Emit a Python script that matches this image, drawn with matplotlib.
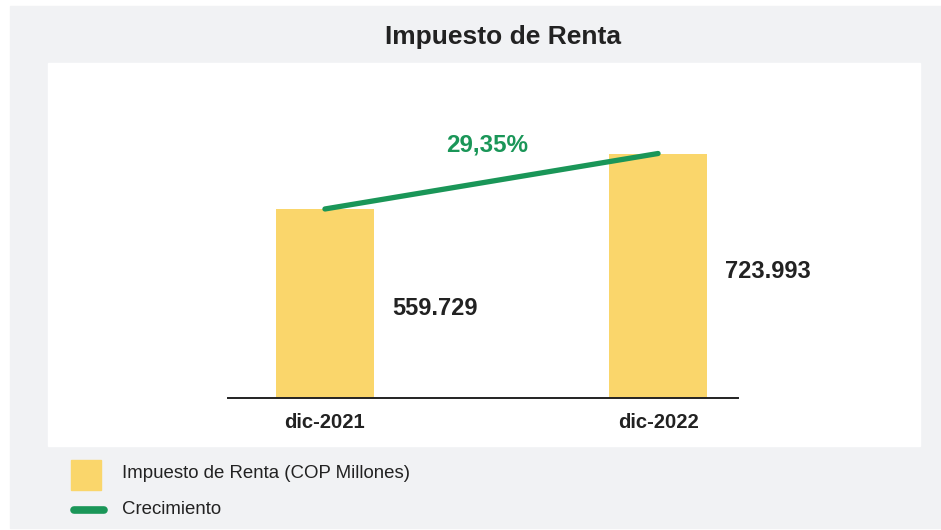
import matplotlib.pyplot as plt
from matplotlib.patches import Rectangle
from matplotlib.lines import Line2D


W, H = 941, 530

categories = ["dic-2021", "dic-2022"]
values = [559729, 723993]
value_labels = ["559.729", "723.993"]
growth_label = "29,35%"

BAR_COLOR = "#fad66b"
LINE_COLOR = "#1a9658"
BG_COLOR = "#f1f2f4"
TEXT_COLOR = "#222222"

plt.rcParams["font.family"] = ["Liberation Sans", "DejaVu Sans"]


def px(x, y):
    # pixel coords (top-left origin) -> figure fraction
    return x / W, 1 - y / H


fig = plt.figure(figsize=(W / 100, H / 100), dpi=100)
fig.patch.set_facecolor("white")

# gray card and white plot panel
x0, y0 = px(10, 528)
fig.patches.append(Rectangle((x0, y0), (W - 10) / W, 522 / H,
                             transform=fig.transFigure, color=BG_COLOR, zorder=-2))
x0, y0 = px(48, 446)
fig.patches.append(Rectangle((x0, y0), (920 - 48) / W, (446 - 63) / H,
                             transform=fig.transFigure, color="white", zorder=-1))

fig.text(*px(503, 37), "Impuesto de Renta", ha="center", va="center",
         fontsize=19, fontweight="bold", color=TEXT_COLOR)

# axes spanning the baseline line
left, right, base, top = 228, 738, 398, 63
ax = fig.add_axes([left / W, 1 - base / H, (right - left) / W, (base - top) / H])
ax.set_facecolor("none")
ax.set_zorder(5)

xs = list(range(len(categories)))
ax.bar(xs, values, width=0.294, color=BAR_COLOR, zorder=2)
ax.plot(xs, values, color=LINE_COLOR, linewidth=3.8, solid_capstyle="round", zorder=3)

ax.set_xlim(-0.291, 1.240)
ax.set_ylim(0, 992000)

# small vertical nudges (points) so the labels sit where the original has them
label_nudge = [-3.6, 3.2]
for x, v, lab, dy in zip(xs, values, value_labels, label_nudge):
    ax.annotate(lab, (x + 0.33, v / 2), xytext=(0, dy), textcoords="offset points",
                ha="center", va="center", fontsize=17, fontweight="bold",
                color=TEXT_COLOR, annotation_clip=False)

mid_x = sum(xs) / len(xs)
ax.text(mid_x - 0.0135, max(values) * 1.035, growth_label, ha="center", va="center",
        fontsize=17.4, fontweight="bold", color=LINE_COLOR)

ax.set_xticks(xs, labels=categories)
ax.tick_params(axis="x", length=0, pad=11, labelsize=14.6, labelcolor=TEXT_COLOR)
for lbl in ax.get_xticklabels():
    lbl.set_fontweight("bold")
ax.set_yticks([])
for side in ["left", "right", "top"]:
    ax.spines[side].set_visible(False)
ax.spines["bottom"].set_color("#222222")
ax.spines["bottom"].set_linewidth(1.4)

# legend drawn by hand
x0, y0 = px(71, 490)
fig.patches.append(Rectangle((x0, y0), 30 / W, 30 / H,
                             transform=fig.transFigure, color=BAR_COLOR, zorder=1))
fig.text(*px(122, 473), "Impuesto de Renta (COP Millones)", ha="left", va="center",
         fontsize=13.4, color=TEXT_COLOR)
lx0, ly = px(74, 510)
lx1, _ = px(104, 510)
fig.lines.append(Line2D([lx0, lx1], [ly, ly], transform=fig.transFigure,
                        color=LINE_COLOR, linewidth=5.5, solid_capstyle="round"))
fig.text(*px(122, 510), "Crecimiento", ha="left", va="center",
         fontsize=13.4, color=TEXT_COLOR)

fig.savefig("out.png", dpi=100, facecolor=fig.get_facecolor())
